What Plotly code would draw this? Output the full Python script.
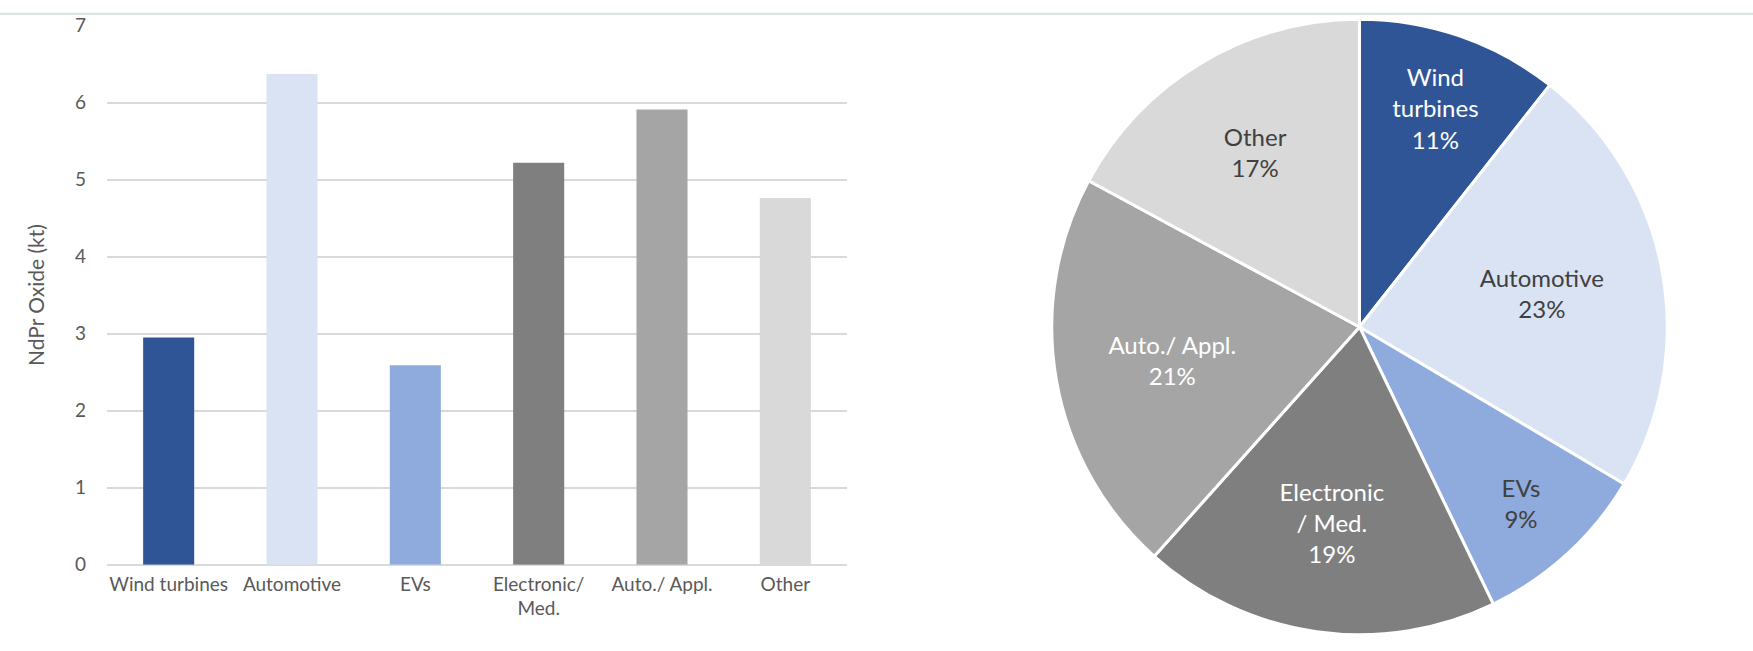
import plotly.graph_objects as go

# ---- data ----
categories = ["Wind turbines", "Automotive", "EVs", "Electronic/<br>Med.", "Auto./ Appl.", "Other"]
ndpr_kt = [2.95, 6.37, 2.59, 5.22, 5.91, 4.76]
pie_labels = ["Wind<br>turbines", "Automotive", "EVs", "Electronic<br>/ Med.", "Auto./ Appl.", "Other"]
y_ticks = [0, 1, 2, 3, 4, 5, 6, 7]

# ---- styles ----
colors = ["#2F5597", "#DAE3F3", "#8FAADC", "#7F7F7F", "#A5A5A5", "#D9D9D9"]
pie_text_colors = ["#FFFFFF", "#404040", "#404040", "#FFFFFF", "#FFFFFF", "#404040"]
FONT = "Lato"
W, H = 1753, 651
PIE_CX, PIE_CY, PIE_HALF = 1359.5, 326.5, 319

fig = go.Figure()

fig.add_trace(go.Bar(
    x=categories, y=ndpr_kt,
    marker=dict(color=colors, line=dict(width=0)),
    hoverinfo="x+y", showlegend=False,
))

fig.add_trace(go.Pie(
    labels=categories, values=ndpr_kt,
    customdata=pie_labels,
    texttemplate="%{customdata}<br>%{percent:.0%}",
    textposition="inside",
    insidetextorientation="horizontal",
    textfont=dict(family=FONT, size=24, color=pie_text_colors),
    marker=dict(colors=colors, line=dict(color="#FFFFFF", width=3)),
    sort=False, direction="clockwise", rotation=0,
    domain=dict(x=[(PIE_CX - PIE_HALF) / W, (PIE_CX + PIE_HALF) / W],
                y=[1 - (PIE_CY + PIE_HALF) / H, 1 - (PIE_CY - PIE_HALF) / H]),
    showlegend=False,
))

fig.update_layout(
    width=W, height=H,
    margin=dict(l=0, r=0, t=0, b=0),
    paper_bgcolor="#FFFFFF", plot_bgcolor="#FFFFFF",
    bargap=0.586,
    font=dict(family=FONT, color="#595959", size=19),
    xaxis=dict(
        domain=[107 / W, 847 / W],
        tickfont=dict(family=FONT, size=19, color="#595959"),
        showgrid=False, showline=False, ticks="", ticklabelstandoff=6,
    ),
    yaxis=dict(
        domain=[1 - 573 / H, 1 - 14 / H],
        range=[0, 7], tickvals=y_ticks,
        tickfont=dict(family=FONT, size=19, color="#595959"),
        showgrid=True, gridcolor="#D9D9D9", gridwidth=1.5,
        zeroline=True, zerolinecolor="#D9D9D9", zerolinewidth=1.5,
        showline=False, ticks="", ticklabelstandoff=20,
        title=dict(text="NdPr Oxide (kt)", font=dict(family=FONT, size=21, color="#595959"), standoff=24),
    ),
    shapes=[
        dict(type="rect", xref="paper", yref="paper", x0=0, x1=1, y0=1 - 2 / H, y1=1,
             fillcolor="#F3FAFA", line=dict(width=0), layer="below"),
        dict(type="line", xref="paper", yref="paper", x0=0, x1=1, y0=1 - 2 / H, y1=1 - 2 / H,
             line=dict(color="#D3DCDC", width=1.5), layer="below"),
    ],
)

fig.write_html(
    "out.html",
    config={"displayModeBar": False},
    post_script="document.body.style.margin='0';document.body.style.overflow='hidden';",
)
